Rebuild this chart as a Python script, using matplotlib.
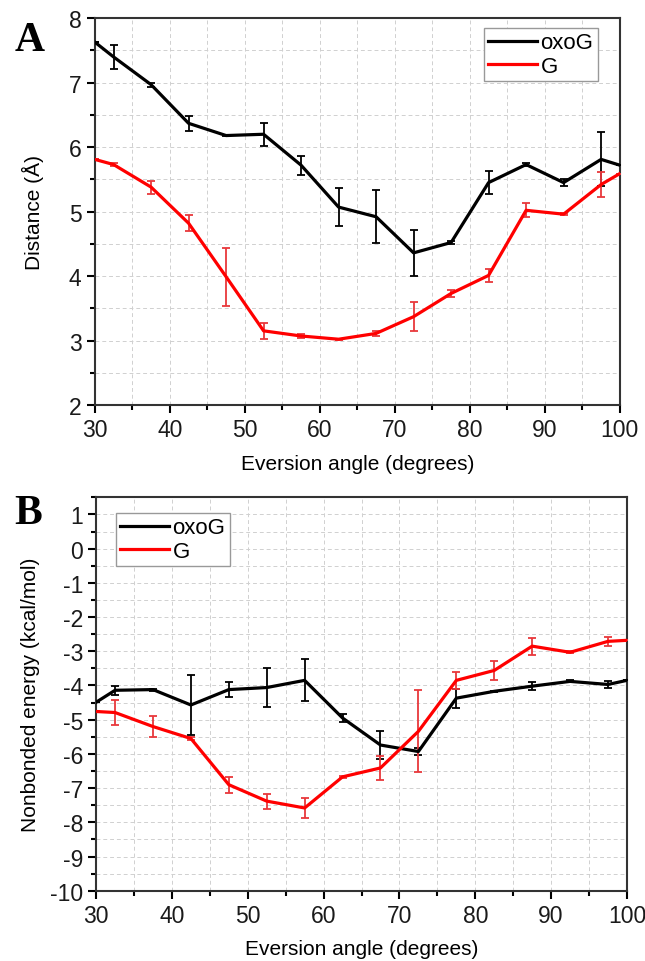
import numpy as np
import matplotlib.pyplot as plt
from matplotlib.ticker import MultipleLocator

plt.rcParams['font.family'] = ['Liberation Sans', 'DejaVu Sans']
plt.rcParams['axes.unicode_minus'] = False

# eversion angles (line ends at 30 and 100, error bars on the bin centres)
angle = [30, 32.5, 37.5, 42.5, 47.5, 52.5, 57.5, 62.5, 67.5, 72.5, 77.5, 82.5, 87.5, 92.5, 97.5, 100]

# A: distance (angstrom)
dist_oxog = [7.63, 7.40, 6.97, 6.37, 6.18, 6.20, 5.72, 5.07, 4.92, 4.36, 4.52, 5.45, 5.73, 5.45, 5.81, 5.72]
dist_oxog_err = [0, 0.18, 0.03, 0.12, 0.01, 0.18, 0.15, 0.29, 0.41, 0.36, 0.03, 0.18, 0.03, 0.05, 0.42, 0]
dist_g = [5.81, 5.73, 5.38, 4.82, 3.99, 3.15, 3.07, 3.02, 3.11, 3.37, 3.73, 4.01, 5.02, 4.96, 5.42, 5.59]
dist_g_err = [0, 0.03, 0.10, 0.12, 0.45, 0.12, 0.03, 0.01, 0.04, 0.23, 0.06, 0.10, 0.11, 0.02, 0.20, 0]

# B: nonbonded energy (kcal/mol)
en_oxog = [-4.49, -4.14, -4.12, -4.57, -4.12, -4.06, -3.85, -4.95, -5.74, -5.93, -4.37, -4.17, -4.02, -3.88, -3.97, -3.85]
en_oxog_err = [0, 0.13, 0.03, 0.88, 0.23, 0.58, 0.61, 0.12, 0.40, 0.09, 0.28, 0.02, 0.12, 0.03, 0.10, 0]
en_g = [-4.76, -4.79, -5.20, -5.55, -6.90, -7.38, -7.58, -6.67, -6.41, -5.34, -3.85, -3.56, -2.85, -3.03, -2.71, -2.68]
en_g_err = [0, 0.37, 0.30, 0.05, 0.24, 0.22, 0.28, 0.02, 0.36, 1.20, 0.24, 0.27, 0.25, 0.03, 0.14, 0]

fig = plt.figure(figsize=(6.45, 9.62), dpi=100)
axA = fig.add_axes([0.147, 0.578, 0.814, 0.402])
axB = fig.add_axes([0.149, 0.073, 0.823, 0.409])


def draw(ax, y1, e1, y2, e2, ylim, ylabel, ypad):
    ax.errorbar(angle, y1, yerr=e1, color='black', lw=2.3, elinewidth=1.3,
                capsize=3, capthick=1.3, label='oxoG', zorder=3)
    ax.errorbar(angle, y2, yerr=e2, color='#ff0000', ecolor='#e8383c', lw=2.3,
                elinewidth=1.3, capsize=3, capthick=1.3, label='G', zorder=3)
    ax.set_xlim(30, 100)
    ax.set_ylim(*ylim)
    ax.xaxis.set_major_locator(MultipleLocator(10))
    ax.xaxis.set_minor_locator(MultipleLocator(5))
    ax.yaxis.set_major_locator(MultipleLocator(1))
    ax.yaxis.set_minor_locator(MultipleLocator(0.5))
    ax.grid(True, which='both', color='#d0d0d0', ls=(0, (4, 3)), lw=0.7)
    ax.set_axisbelow(True)
    ax.tick_params(which='major', direction='out', length=6, width=1.5,
                   labelsize=16.5, labelcolor='#1a1a1a', top=False, right=False)
    ax.tick_params(which='minor', direction='out', length=3.5, width=1.5,
                   top=False, right=False)
    for s in ax.spines.values():
        s.set_linewidth(1.5)
        s.set_color('#333333')
    ax.set_xlabel('Eversion angle (degrees)', fontsize=15, labelpad=9)
    ax.set_ylabel(ylabel, fontsize=15, labelpad=ypad)


draw(axA, dist_oxog, dist_oxog_err, dist_g, dist_g_err, (2, 8),
     'Distance (Å)', 18)
draw(axB, en_oxog, en_oxog_err, en_g, en_g_err, (-10, 1.5),
     'Nonbonded energy (kcal/mol)', 7)

for ax, loc, anchor in [(axA, 'upper right', (0.958, 0.975)),
                        (axB, 'upper left', (0.037, 0.96))]:
    h, l = ax.get_legend_handles_labels()
    h = [x[0] for x in h]
    leg = ax.legend(h, l, loc=loc, fontsize=16, frameon=True, fancybox=False,
                    edgecolor='#999999', framealpha=1, handlelength=2.2,
                    handletextpad=0.15, borderpad=0.2, labelspacing=0.1,
                    borderaxespad=0.0, bbox_to_anchor=anchor)
    leg.get_frame().set_linewidth(1.0)

fig.text(0.022, 0.947, 'A', family='Liberation Serif', fontsize=30, fontweight='bold')
fig.text(0.022, 0.455, 'B', family='Liberation Serif', fontsize=30, fontweight='bold')

fig.savefig('out.png', dpi=100)
